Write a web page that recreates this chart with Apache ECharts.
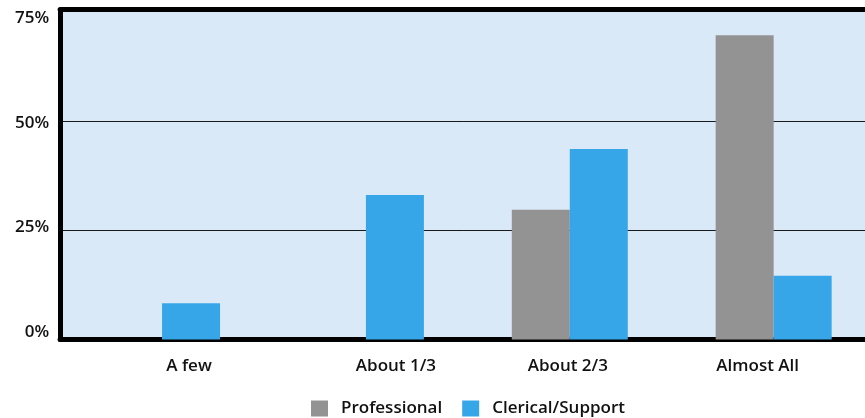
<!DOCTYPE html>
<html>
<head>
<meta charset="utf-8">
<script src="https://cdn.jsdelivr.net/npm/echarts@6/dist/echarts.min.js"></script>
<style>
  html, body { margin: 0; padding: 0; background: #ffffff; }
  #chart { width: 865px; height: 418px; }
</style>
</head>
<body>
<div id="chart"></div>
<script>
// Share of staff, by how much of their work is affected
const categories = ['A few', 'About 1/3', 'About 2/3', 'Almost All'];
const professional = [0, 0, 29.7, 69.7];
const clerical = [8.3, 33.1, 43.6, 14.6];
const yTicks = [0, 25, 50, 75];

// horizontal nudges (px) applied to the category captions
const captionShift = [27, 30, -2, -16];

const FONT = '"Open Sans", "Liberation Sans", Arial, sans-serif';
const INK = '#111111';

const xData = categories.map((c, i) => {
  const s = captionShift[i];
  return {
    value: c,
    textStyle: { padding: s >= 0 ? [0, 0, 0, 2 * s] : [0, -2 * s, 0, 0] }
  };
});

const chart = echarts.init(document.getElementById('chart'), null, { renderer: 'canvas' });

chart.setOption({
  animation: false,
  backgroundColor: '#ffffff',
  grid: {
    left: 60.1, width: 815.5, top: 12, bottom: 78.5,
    outerBoundsMode: 'none',
    show: true, backgroundColor: '#dae9f8', borderWidth: 0
  },
  legend: {
    left: 306, top: 395,
    itemWidth: 17, itemHeight: 16, itemGap: 20,
    icon: 'rect',
    textStyle: { fontFamily: FONT, fontSize: 17, fontWeight: 600, color: INK, padding: [0, 0, 0, 8] },
    data: ['Professional', 'Clerical/Support']
  },
  xAxis: [
    {
      type: 'category', data: xData, position: 'bottom',
      axisLine: { show: true, onZero: false, lineStyle: { color: '#000', width: 5 } },
      axisTick: { show: false },
      axisLabel: { fontFamily: FONT, fontSize: 17, fontWeight: 600, color: INK, margin: 18 }
    },
    {
      type: 'category', data: categories, position: 'top', offset: 2.8,
      axisLine: { show: true, onZero: false, lineStyle: { color: '#000', width: 5 } },
      axisTick: { show: false }, axisLabel: { show: false }
    }
  ],
  yAxis: [
    {
      type: 'value', min: 0, max: 75, interval: 25, position: 'left',
      axisLine: { show: true, onZero: false, lineStyle: { color: '#000', width: 5 } },
      axisTick: { show: false }, axisLabel: { show: false },
      splitLine: { show: true, showMinLine: false, showMaxLine: false, lineStyle: { color: '#1a1a1a', width: 1 } }
    },
    {
      // caption scale for the percentage labels
      type: 'value', min: -1.744, max: 76.505, position: 'left',
      axisLine: { show: false }, axisTick: { show: false }, splitLine: { show: false },
      axisLabel: {
        customValues: yTicks, margin: 11,
        fontFamily: FONT, fontSize: 17, fontWeight: 600, color: INK,
        formatter: v => v + '%'
      }
    }
  ],
  series: [
    {
      name: 'Professional', type: 'bar', data: professional,
      barWidth: 58, barGap: '0%',
      itemStyle: { color: '#939393' }
    },
    {
      name: 'Clerical/Support', type: 'bar', data: clerical,
      barWidth: 58, barGap: '0%',
      itemStyle: { color: '#37a6e8' }
    }
  ]
});
</script>
</body>
</html>
